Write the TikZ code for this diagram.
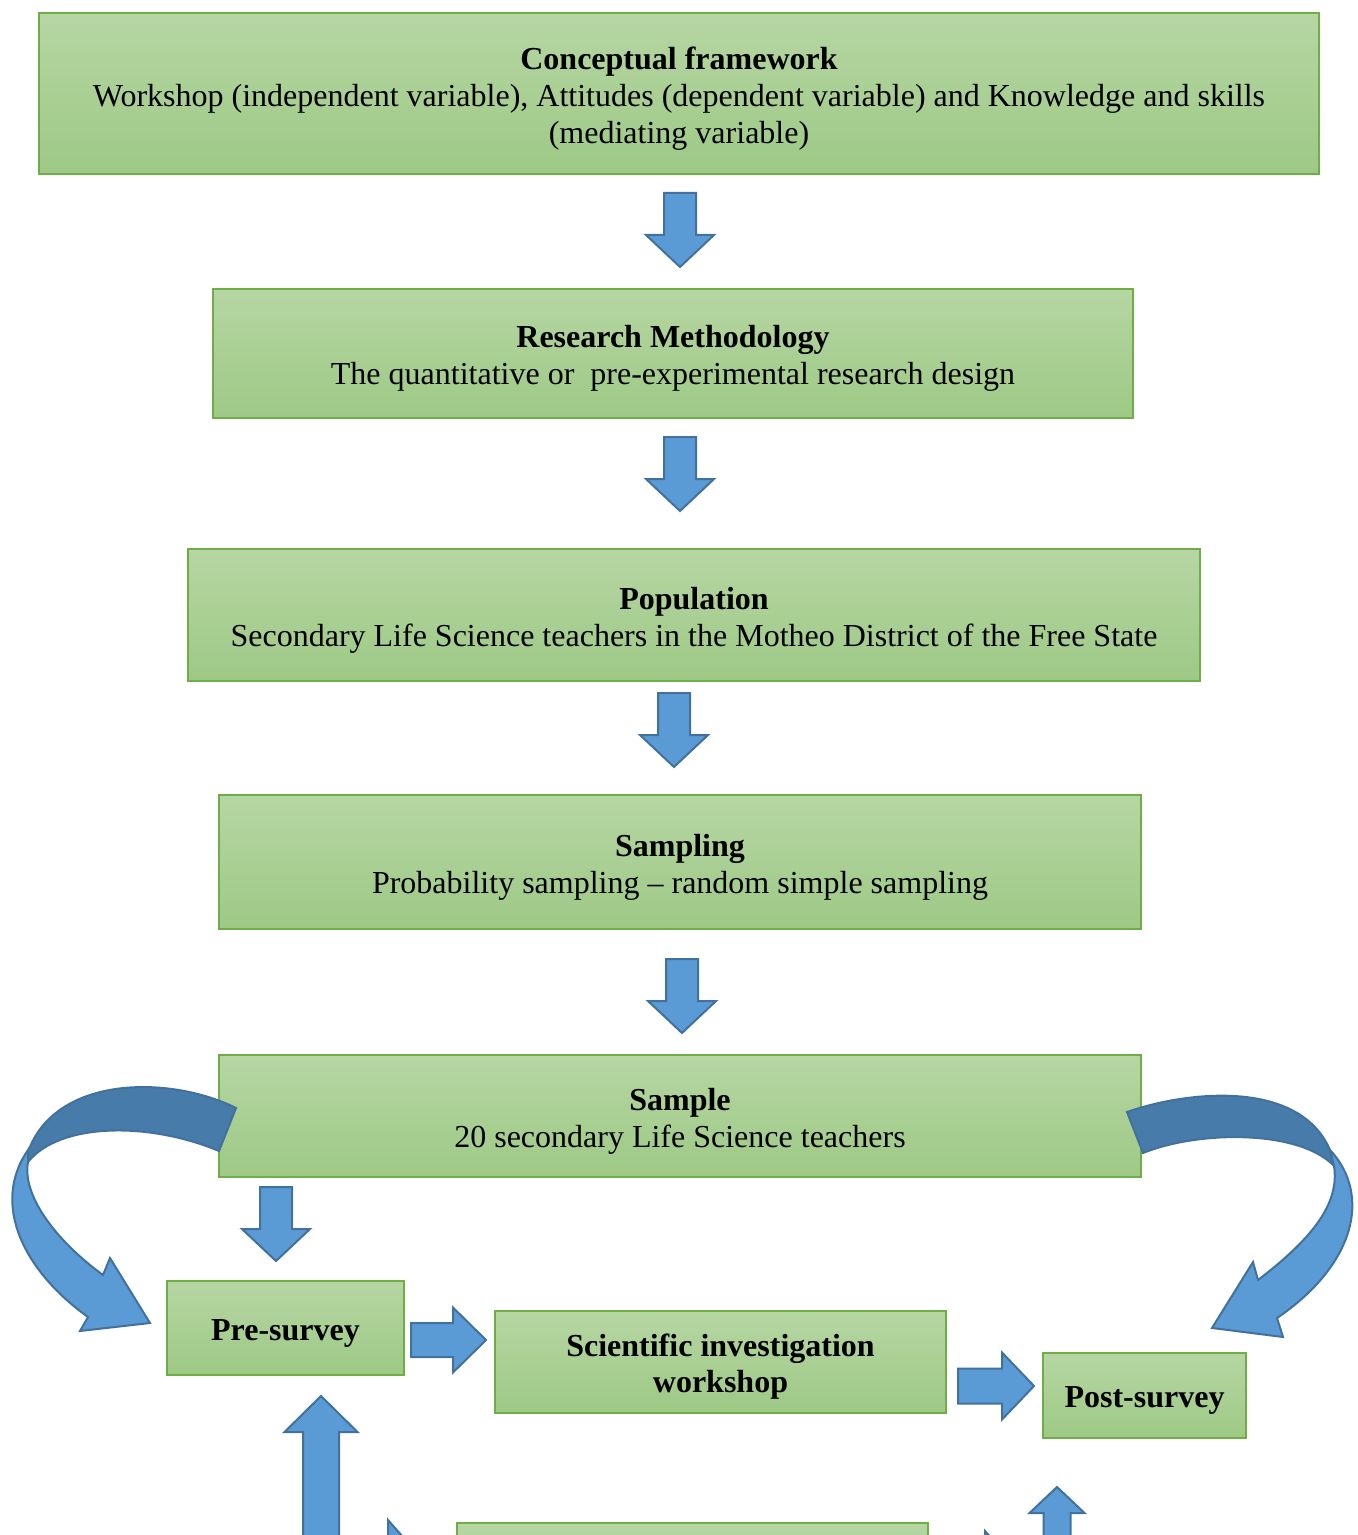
\documentclass[tikz,border=0pt]{standalone}
\usepackage{fontspec}
\setmainfont{Liberation Serif}
\definecolor{boxtop}{RGB}{182,214,163}
\definecolor{boxbot}{RGB}{158,201,134}
\definecolor{boxedge}{RGB}{112,173,71}
\definecolor{arrowfill}{RGB}{91,155,213}
\definecolor{arrowdark}{RGB}{71,124,170}
\definecolor{arrowedge}{RGB}{65,113,156}
% block arrow: centre x, centre y, rotation, length, shaft width, head width, head length
\newcommand\blockarrow[7]{%
  \path[blk, shift={(#1,#2)}, rotate=#3]
    (-#4/2,-#5/2) -- (#4/2-#7,-#5/2) -- (#4/2-#7,-#6/2) -- (#4/2,0)
    -- (#4/2-#7,#6/2) -- (#4/2-#7,#5/2) -- (-#4/2,#5/2) -- cycle;}
\begin{document}
\begin{tikzpicture}[x=0.5pt,y=-0.5pt,
  box/.style={draw=boxedge, line width=0.8pt, top color=boxtop, bottom color=boxbot, inner sep=0pt},
  boxtext/.style={align=center, inner sep=0pt, yshift=-2.5pt, font=\fontsize{16}{18.5}\selectfont},
  boldtext/.style={boxtext, font=\fontsize{16}{18}\selectfont\bfseries},
  blk/.style={fill=arrowfill, draw=arrowedge, line width=1pt, line join=miter},
  blkdark/.style={fill=arrowdark, draw=arrowedge, line width=1pt, line join=miter},
]
\useasboundingbox (0,0) rectangle (1357,1535);
\clip (0,0) rectangle (1357,1535);

% stages of the study
\node[box, minimum width=640pt, minimum height=80.5pt,
  label={[boxtext]center:{\textbf{Conceptual framework}\\Workshop (independent variable), Attitudes (dependent variable) and Knowledge and skills\\(mediating variable)}}]
  (frame) at (679,93.5) {};
\node[box, minimum width=460pt, minimum height=64.5pt,
  label={[boxtext]center:{\textbf{Research Methodology}\\The quantitative or~ pre-experimental research design}}]
  (method) at (673,353.5) {};
\node[box, minimum width=506pt, minimum height=66pt,
  label={[boxtext]center:{\textbf{Population}\\Secondary Life Science teachers in the Motheo District of the Free State}}]
  (population) at (694,615) {};
\node[box, minimum width=461pt, minimum height=67pt,
  label={[boxtext]center:{\textbf{Sampling}\\Probability sampling -- random simple sampling}}]
  (sampling) at (680,862) {};
\node[box, minimum width=461pt, minimum height=61pt,
  label={[boxtext]center:{\textbf{Sample}\\20 secondary Life Science teachers}}]
  (sample) at (680,1116) {};
\node[box, minimum width=118.5pt, minimum height=47pt,
  label={[boldtext]center:Pre-survey}]
  (pre) at (285.5,1328) {};
\node[box, minimum width=225.5pt, minimum height=51pt,
  label={[boldtext]center:{Scientific investigation\\workshop}}]
  (workshop) at (720.5,1362) {};
\node[box, minimum width=101.5pt, minimum height=42.5pt,
  label={[boldtext]center:Post-survey}]
  (post) at (1144.5,1395.5) {};
\node[box, minimum width=235.5pt, minimum height=50pt] (next) at (692.5,1573) {};

% straight block arrows
\blockarrow{680}{230}{-90}{74}{32}{68}{32}
\blockarrow{680}{474}{-90}{74}{32}{68}{32}
\blockarrow{674}{730}{-90}{74}{32}{68}{32}
\blockarrow{682}{996}{-90}{74}{32}{68}{32}
\blockarrow{276}{1224}{-90}{74}{32}{68}{32}
\blockarrow{448.5}{1340}{0}{75}{34}{65}{33}
\blockarrow{996}{1386}{0}{76}{35}{67}{32}
\blockarrow{321}{1496}{90}{200}{36}{73}{36}
\blockarrow{1057}{1562}{90}{150}{27}{55}{26}
\blockarrow{383.5}{1557.5}{0}{75}{34}{75}{33}
\blockarrow{980.5}{1568.5}{0}{75}{34}{75}{33}

% curved arrow from the sample to the pre-survey
\path[blkdark] (236,1108) .. controls (170,1075) and (55,1075) .. (28,1152)
  -- (28,1162) .. controls (60,1122) and (150,1122) .. (219,1151) -- cycle;
\path[blk] (28,1150) .. controls (-10,1205) and (25,1272) .. (88,1317)
  -- (80,1331) -- (150,1323) -- (110,1258) -- (103,1275)
  .. controls (55,1240) and (22,1195) .. (28,1162) -- cycle;

% curved arrow from the sample to the post-survey
\path[blkdark] (1127,1112) .. controls (1190,1090) and (1300,1080) .. (1330,1150)
  -- (1334,1166) .. controls (1300,1130) and (1200,1130) .. (1143,1153) -- cycle;
\path[blk] (1330,1150) .. controls (1372,1195) and (1355,1265) .. (1277,1318)
  -- (1283,1337) -- (1212,1328) -- (1253,1262) -- (1258,1280)
  .. controls (1310,1240) and (1340,1205) .. (1334,1166) -- cycle;
\end{tikzpicture}
\end{document}
